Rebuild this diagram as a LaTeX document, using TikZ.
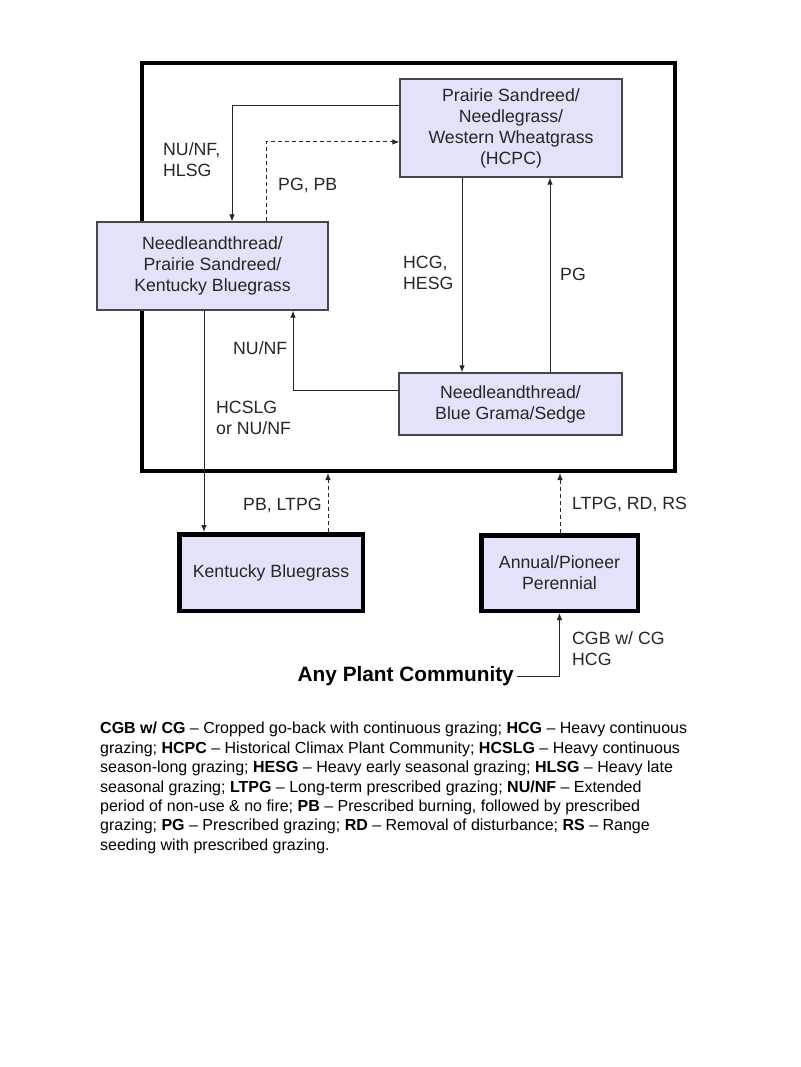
\documentclass[tikz,border=0pt]{standalone}
\usepackage{fontspec}
\setmainfont{Liberation Sans}
\usetikzlibrary{calc,arrows.meta}
\definecolor{boxfill}{RGB}{226,226,250}
\definecolor{boxline}{RGB}{70,70,70}
\tikzset{
  state/.style={draw=boxline, line width=1.2pt, fill=boxfill, align=center, inner sep=0pt, text=black!85, font=\fontsize{17.7}{21}\selectfont},
  bigstate/.style={state, draw=black, line width=4.5pt},
  lab/.style={anchor=west, align=left, inner sep=0pt, text=black!85, font=\fontsize{17.7}{21}\selectfont},
  arr/.style={-{Latex[length=7pt,width=5.5pt]}, line width=1pt, draw=black!85},
  dsh/.style={dash pattern=on 4pt off 3pt}
}

\begin{document}
\begin{tikzpicture}[x=1pt,y=-1pt]
\path[fill=white] (0,0) rectangle (800,1067);
\node[draw, line width=4pt, minimum width=533pt, minimum height=408pt, inner sep=0pt] (frame) at (408.5,267) {};
\node[state, minimum width=222pt, minimum height=98pt] (hcpc) at (511,128) {Prairie Sandreed/\\Needlegrass/\\Western Wheatgrass\\(HCPC)};
\node[state, minimum width=231pt, minimum height=88pt] (nps) at (212.5,266) {Needleandthread/\\Prairie Sandreed/\\Kentucky Bluegrass};
\node[state, minimum width=223pt, minimum height=62pt] (nbg) at (510.5,404) {Needleandthread/\\Blue Grama/Sedge};
\node[bigstate, minimum width=183.5pt, minimum height=76.5pt] (kb) at (271,572.5) {Kentucky Bluegrass};
\node[bigstate, minimum width=156.5pt, minimum height=75.5pt] (ap) at (559.5,573) {Annual/Pioneer\\Perennial};
\node[anchor=east, inner sep=3pt, font=\bfseries\fontsize{20.8}{24}\selectfont] (any) at (517,676) {Any Plant Community};
\draw[arr] (hcpc.west |- 0,106) -| (232,0 |- nps.north);
\draw[arr,dsh] (266,0 |- nps.north) |- (hcpc.west |- 0,142);
\draw[arr] (462,0 |- hcpc.south) -- (462,0 |- nbg.north);
\draw[arr] (550,0 |- nbg.north) -- (550,0 |- hcpc.south);
\draw[arr] (nbg.west |- 0,390) -| (293,0 |- nps.south);
\draw[arr] (204,0 |- nps.south) -- (204,0 |- kb.north);
\draw[arr,dsh] (328,0 |- kb.north) -- (328,0 |- frame.south);
\draw[arr,dsh] (560,0 |- ap.north) -- (560,0 |- frame.south);
\draw[arr] (any.east) -| (ap.south);
\node[lab] (l1) at (163,160) {NU/NF,\\HLSG};
\node[lab] (l2) at (278,185) {PG, PB};
\node[lab] (l3) at (403,273) {HCG,\\HESG};
\node[lab] (l4) at (560,274) {PG};
\node[lab] (l5) at (233,348) {NU/NF};
\node[lab] (l6) at (216,418) {HCSLG\\or NU/NF};
\node[lab] (l7) at (243,505) {PB, LTPG};
\node[lab] (l8) at (572,504) {LTPG, RD, RS};
\node[lab] (l9) at (572,649) {CGB w/ CG\\HCG};
\node[anchor=north west, align=left, inner sep=0pt, text=black, font=\fontsize{16}{19.4}\selectfont] (key) at (100,722) {\textbf{CGB w/ CG} – Cropped go-back with continuous grazing; \textbf{HCG} – Heavy continuous\\
grazing; \textbf{HCPC} – Historical Climax Plant Community; \textbf{HCSLG} – Heavy continuous\\
season-long grazing; \textbf{HESG} – Heavy early seasonal grazing; \textbf{HLSG} – Heavy late\\
seasonal grazing; \textbf{LTPG} – Long-term prescribed grazing; \textbf{NU/NF} – Extended\\
period of non-use \& no fire; \textbf{PB} – Prescribed burning, followed by prescribed\\
grazing; \textbf{PG} – Prescribed grazing; \textbf{RD} – Removal of disturbance; \textbf{RS} – Range\\
seeding with prescribed grazing.};
\end{tikzpicture}
\end{document}
